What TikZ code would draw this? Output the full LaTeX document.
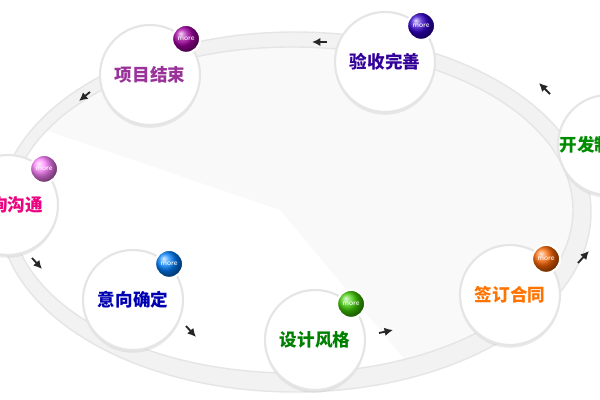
\documentclass[tikz,border=0pt]{standalone}
\usepackage{fontspec}
\newfontfamily\cjk{Noto Sans CJK SC}
\usetikzlibrary{shadows,arrows.meta}
\tikzset{
  stage/.style={circle, minimum size=100\pxu, fill=white, draw=gray!20, line width=1.5pt,
    drop shadow={shadow xshift=0pt, shadow yshift=-2pt, fill=gray!40, opacity=0.4},
    font=\cjk\bfseries\fontsize{12.5}{14}\selectfont, inner sep=0pt},
  badge/.style={circle, minimum size=28\pxu, ball color=#1, draw=white, line width=1.5pt,
    text=white, font=\sffamily\fontsize{5.5}{6}\selectfont, inner sep=0pt},
  step arrow/.style={-{Latex[length=6pt,width=6pt]}, line width=1.3pt, black!85}
}
\newlength\pxu \setlength\pxu{0.025cm}
\begin{document}
\begin{tikzpicture}[x=0.025cm, y=-0.025cm]
    \clip (0,0) rectangle (600,400);
    \fill[white] (0,0) rectangle (600,400);
    % Ring and wedge
    \fill[gray!10] (295,212) ellipse (296 and 180);
    \fill[gray!5] (292,210) ellipse (281 and 163);
    \begin{scope}
      \clip (292,210) ellipse (281 and 163);
      \fill[white] (280,210) -- (30,125) -- (-10,125) -- (-10,410) -- (410,410) -- (405,360) -- cycle;
    \end{scope}
    \draw[gray!20, line width=1pt] (292,210) ellipse (281 and 163);
    \draw[gray!20, line width=1pt] (295,212) ellipse (296 and 180);
    % Stages
    \node[stage, text=violet!80] (end) at (150,75) {项目结束};
    \node[stage, text=blue!50!violet!80!black] (check) at (385,62) {验收完善};
    \node[stage, text=green!55!black] (dev) at (608,145) {\hspace*{-1.5em}开发制作};
    \node[stage, text=magenta!90!red] (talk) at (8,205) {咨询沟通};
    \node[stage, text=blue!70!black] (intent) at (133,300) {意向确定};
    \node[stage, text=green!50!black] (design) at (315,340) {设计风格};
    \node[stage, text=orange!90!red] (sign) at (510,295) {签订合同};
    % Badges
    \node[badge=violet!70!magenta] (m1) at (end.45) {more};
    \node[badge=blue!60!violet] (m2) at (check.45) {more};
    \node[badge=magenta!50] (m3) at (talk.45) {more};
    \node[badge=blue!50!cyan] (m4) at (intent.45) {more};
    \node[badge=green!60!lime!80!black] (m5) at (design.45) {more};
    \node[badge=orange!80!red] (m6) at (sign.45) {more};
    % Arrows
    \draw[step arrow] (327,42) -- (312,42);
    \draw[step arrow] (90,92) -- (79,101);
    \draw[step arrow] (32,258) -- (42,269);
    \draw[step arrow] (186,326) -- (196,337);
    \draw[step arrow] (379,333) -- (393,330);
    \draw[step arrow] (578,263) -- (589,251);
    \draw[step arrow] (550,94) -- (539,83);
\end{tikzpicture}
\end{document}
